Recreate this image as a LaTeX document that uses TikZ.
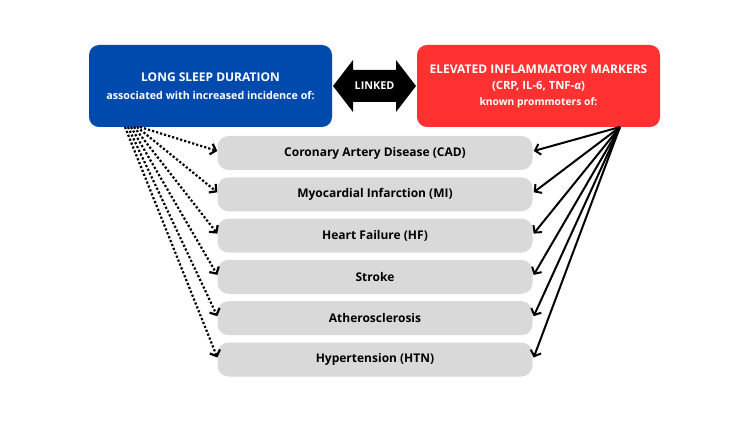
\documentclass[tikz,border=0pt]{standalone}
\usepackage{fontspec}
\setmainfont{Open Sans}
\usetikzlibrary{arrows.meta}
\definecolor{sleepblue}{HTML}{004AAD}
\definecolor{markerred}{HTML}{FF3131}
\definecolor{boxgrey}{HTML}{D9D9D9}
\tikzset{
	headbox/.style={rounded corners=10pt, minimum width=243pt, minimum height=82pt, text=white, align=center},
	diseasebox/.style={fill=boxgrey, rounded corners=11pt, minimum width=315pt, minimum height=34pt, font=\fontsize{12}{14}\selectfont\bfseries},
	dotarrow/.style={line width=2.2pt, dash pattern=on 2.2pt off 2pt, -{Straight Barb[length=5pt,width=11pt]}},
	solidarrow/.style={line width=2pt, -{Straight Barb[length=5pt,width=11pt]}}
}

\begin{document}
\begin{tikzpicture}[x=1pt,y=-1pt]
		%%%%% START %%%%%
		\useasboundingbox[fill=white] (0,0) rectangle (750,422);
		
		\node[headbox, fill=sleepblue, font=\fontsize{12}{18}\selectfont\bfseries] (sleep) at (210.5,86)
			{LONG SLEEP DURATION\\\fontsize{10.7}{18}\selectfont associated with increased incidence of:};
		\node[headbox, fill=markerred, font=\fontsize{12}{16}\selectfont\bfseries] (markers) at (538.5,86)
			{ELEVATED INFLAMMATORY MARKERS\\\fontsize{11.3}{16}\selectfont(CRP, IL-6, TNF-\textit{α})\\\fontsize{10.3}{16}\selectfont known prommoters of:};
		
		% linked arrow
		\fill (333,86) -- (353,60) -- (353,70) -- (396,70) -- (396,60) -- (416,86)
			-- (396,112) -- (396,102) -- (353,102) -- (353,112) -- cycle;
		\node[text=white, font=\fontsize{10.8}{12}\selectfont\bfseries] (link) at (374.5,86) {LINKED};
		
		\coordinate (hub) at (620,127);
		
		\foreach \name/\txt [count=\i from 0] in {cad/Coronary Artery Disease (CAD), mi/Myocardial Infarction (MI),
			hf/Heart Failure (HF), stroke/Stroke, athero/Atherosclerosis, htn/Hypertension (HTN)}
		{
			\node[diseasebox] (\name) at (375,{153+41.3*\i}) {\txt};
			\coordinate (src\i) at ({140-3*\i},127);
			\draw[dotarrow] (src\i) -- ([yshift=2pt]\name.west);
			\draw[solidarrow] (hub) -- ([yshift=2pt,xshift=1pt]\name.east);
		}
		%%%%% END %%%%%
\end{tikzpicture}
\end{document}
